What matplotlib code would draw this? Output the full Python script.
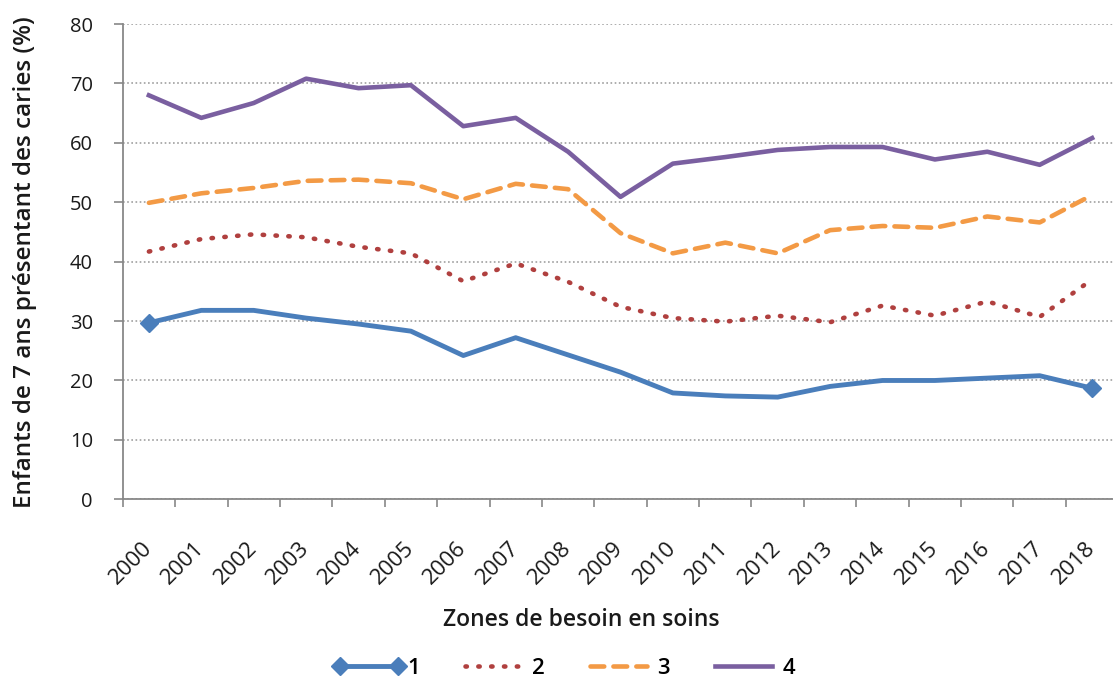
import matplotlib
matplotlib.use("Agg")
import matplotlib.pyplot as plt
from matplotlib.lines import Line2D
import numpy as np

plt.rcParams['font.family'] = ['Open Sans', 'DejaVu Sans']

years = [str(y) for y in range(2000, 2019)]
zone1 = [29.7, 31.8, 31.8, 30.5, 29.5, 28.3, 24.2, 27.2, 24.3, 21.4, 17.9, 17.4, 17.2, 19.0, 20.0, 20.0, 20.4, 20.8, 18.7]
zone2 = [41.7, 43.8, 44.6, 44.1, 42.5, 41.4, 36.7, 39.7, 36.6, 32.4, 30.5, 29.9, 30.9, 29.8, 32.6, 30.9, 33.3, 30.7, 37.0]
zone3 = [49.9, 51.5, 52.4, 53.6, 53.8, 53.2, 50.5, 53.1, 52.2, 44.8, 41.4, 43.2, 41.4, 45.3, 46.0, 45.7, 47.6, 46.6, 51.2]
zone4 = [68.0, 64.2, 66.7, 70.8, 69.2, 69.7, 62.8, 64.2, 58.5, 50.9, 56.5, 57.6, 58.8, 59.3, 59.3, 57.2, 58.5, 56.3, 60.8]
series_labels = ['1', '2', '3', '4']
yticks = [0, 10, 20, 30, 40, 50, 60, 70, 80]

c1, c2, c3, c4 = '#4A7EBB', '#B0403F', '#F39A45', '#7A5FA0'
dot_style = (0, (0.3, 2.5))
dash_style = (0, (3.0, 2.0))

W, H = 1113, 683
fig = plt.figure(figsize=(W / 100, H / 100), dpi=100)
left_px, right_px, top_px, bot_px = 122.7, 122.7 + 19 * 52.4, 24.0, 499.3
ax = fig.add_axes([left_px / W, 1 - bot_px / H, (right_px - left_px) / W, (bot_px - top_px) / H])

x = np.arange(len(years))
ax.plot(x, zone1, color=c1, lw=3.5, solid_capstyle='round', solid_joinstyle='round', zorder=4)
ax.plot([x[0], x[-1]], [zone1[0], zone1[-1]], ls='none', marker='D', ms=9, color=c1, zorder=5)
ax.plot(x, zone2, color=c2, lw=3.3, ls=dot_style, dash_capstyle='round', zorder=3)
ax.plot(x, zone3, color=c3, lw=3.3, ls=dash_style, dash_capstyle='round', zorder=3)
ax.plot(x, zone4, color=c4, lw=3.3, solid_joinstyle='round', zorder=3)

ax.set_xlim(-0.5, len(years) - 0.5)
ax.set_ylim(0, 80)
ax.set_yticks(yticks)
ax.yaxis.grid(True, color='#A0A0A0', ls=(0, (1, 1.5)), lw=1.2)
ax.set_axisbelow(True)

ax.set_xticks(np.arange(-0.5, len(years), 1.0))
ax.set_xticklabels([])
ax.set_xticks(x, minor=True)
ax.set_xticklabels(years, minor=True, rotation=45, ha='right', va='center', rotation_mode='anchor',
                   fontsize=16, color='#1a1a1a')
ax.tick_params(axis='x', which='major', length=6, width=1.2, color='#888888', direction='out')
ax.tick_params(axis='x', which='minor', length=0, pad=33)
ax.tick_params(axis='y', length=6.5, width=1.2, color='#888888', labelsize=14.5, labelcolor='#1a1a1a', pad=15)

for s in ['top', 'right']:
    ax.spines[s].set_visible(False)
for s in ['left', 'bottom']:
    ax.spines[s].set_color('#888888')
    ax.spines[s].set_linewidth(1.3)

fig.text(25 / W, 1 - 262 / H, 'Enfants de 7 ans présentant des caries (%)', rotation=90,
         ha='center', va='center', fontsize=17.5, fontweight='semibold', color='#1a1a1a')
fig.text(581 / W, 1 - 620 / H, 'Zones de besoin en soins', ha='center', va='center',
         fontsize=16.5, fontweight='semibold', color='#1a1a1a')

handles = [
    Line2D([], [], color=c1, lw=3.5, marker='D', ms=9),
    Line2D([], [], color=c2, lw=3.3, ls=dot_style, dash_capstyle='round'),
    Line2D([], [], color=c3, lw=3.3, ls=dash_style, dash_capstyle='round'),
    Line2D([], [], color=c4, lw=3.3),
]
fig.legend(handles, series_labels, loc='center', bbox_to_anchor=(564 / W, 1 - 668 / H), ncol=4,
           frameon=False, handlelength=3.2, handletextpad=0.15, columnspacing=1.7,
           numpoints=2, prop={'weight': 'semibold', 'size': 16})

fig.savefig('out.png', dpi=100)
